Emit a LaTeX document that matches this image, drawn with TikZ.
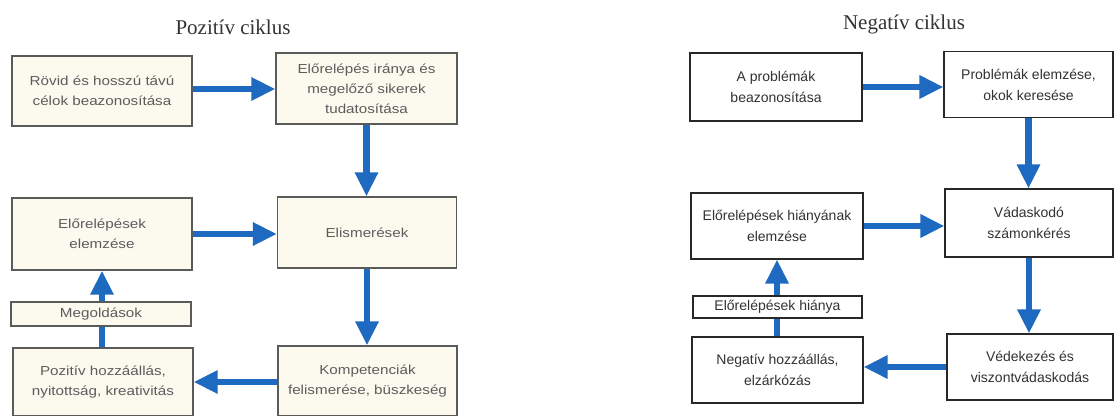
\documentclass[tikz,border=0pt]{standalone}
\usepackage{fontspec}
\setmainfont{Liberation Sans}
\newfontfamily\lsans[FakeStretch=1.17]{Liberation Sans}
\newfontfamily\rsans{Liberation Sans}
\newfontfamily\titlefont{Liberation Serif}
\usetikzlibrary{arrows.meta}
\definecolor{arrblue}{RGB}{30,106,192}
\definecolor{cream}{RGB}{252,250,238}
\definecolor{lborder}{RGB}{90,90,90}
\definecolor{ltext}{RGB}{92,92,92}
\definecolor{rborder}{RGB}{40,40,40}
\definecolor{rtext}{RGB}{50,50,50}
\tikzset{
  lbox/.style={draw=lborder, line width=1.3pt, fill=cream, text=ltext, align=center,
    inner sep=0pt, font=\lsans\fontsize{13}{20}\selectfont},
  rbox/.style={draw=rborder, line width=1.1pt, fill=white, text=rtext, align=center,
    inner sep=0pt, font=\rsans\fontsize{14}{21}\selectfont},
  ttl/.style={font=\titlefont\fontsize{21}{25}\selectfont, text=black!80},
  arr/.style={draw=arrblue, line width=6.5pt, -{Triangle[width=22pt,length=24pt]}, arrblue},
}
\begin{document}
\begin{tikzpicture}[x=1pt,y=-1pt]
\useasboundingbox (0,0) rectangle (1115,415);
\fill[white] (0,0) rectangle (1115,415);

% ---------- Pozitív ciklus ----------
\node[ttl] (t1) at (233,27) {Pozitív ciklus};
\node[lbox, minimum width=180pt, minimum height=70pt] (A) at (102,91) {Rövid és hosszú távú\\célok beazonosítása};
\node[lbox, minimum width=181pt, minimum height=71pt] (B) at (366.5,88.5) {Előrelépés iránya és\\megelőző sikerek\\tudatosítása};
\node[lbox, minimum width=180pt, minimum height=72pt] (D) at (102,234) {Előrelépések\\elemzése};
\node[lbox, minimum width=179pt, minimum height=71pt] (C) at (367,232.5) {Elismerések};
\node[lbox, minimum width=180pt, minimum height=68pt] (E) at (103,382) {Pozitív hozzáállás,\\nyitottság, kreativitás};
\node[lbox, minimum width=179pt, minimum height=70pt] (F) at (367.5,381) {Kompetenciák\\felismerése, büszkeség};

\draw[arr] ([yshift=2pt]A.east) -- ([yshift=2pt]A.east -| B.west);
\draw[arr] (B.south) -- (B.south |- C.north);
\draw[arr] (D.east) -- (D.east -| C.west);
\draw[arr] (C.south) -- (C.south |- F.north);
\draw[arr] (F.west |- E.east) -- (E.east);
\draw[arr] (E.north -| D.south) -- (D.south);
\node[lbox, minimum width=180pt, minimum height=24pt] (M) at (101,314) {Megoldások};

% ---------- Negatív ciklus ----------
\node[ttl] (t2) at (904,24) {Negatív ciklus};
\node[rbox, minimum width=172pt, minimum height=68pt] (G) at (776,87) {A problémák\\beazonosítása};
\node[rbox, minimum width=169pt, minimum height=66pt] (H) at (1028.5,84.5) {Problémák elemzése,\\okok keresése};
\node[rbox, minimum width=172pt, minimum height=66pt] (J) at (777,226) {Előrelépések hiányának\\elemzése};
\node[rbox, minimum width=168pt, minimum height=68pt] (I) at (1029,223) {Vádaskodó\\számonkérés};
\node[rbox, minimum width=171pt, minimum height=66pt] (K) at (777.5,370) {Negatív hozzáállás,\\elzárkózás};
\node[rbox, minimum width=166pt, minimum height=66pt] (L) at (1030,367) {Védekezés és\\viszontvádaskodás};

\draw[arr] (G.east) -- (G.east -| H.west);
\draw[arr] (H.south) -- (H.south |- I.north);
\draw[arr] (J.east) -- (J.east -| I.west);
\draw[arr] (I.south) -- (I.south |- L.north);
\draw[arr] (L.west) -- (L.west -| K.east);
\draw[arr] (K.north -| J.south) -- (J.south);
\node[rbox, minimum width=169pt, minimum height=22pt] (EH) at (777.5,307) {Előrelépések hiánya};
\end{tikzpicture}
\end{document}
